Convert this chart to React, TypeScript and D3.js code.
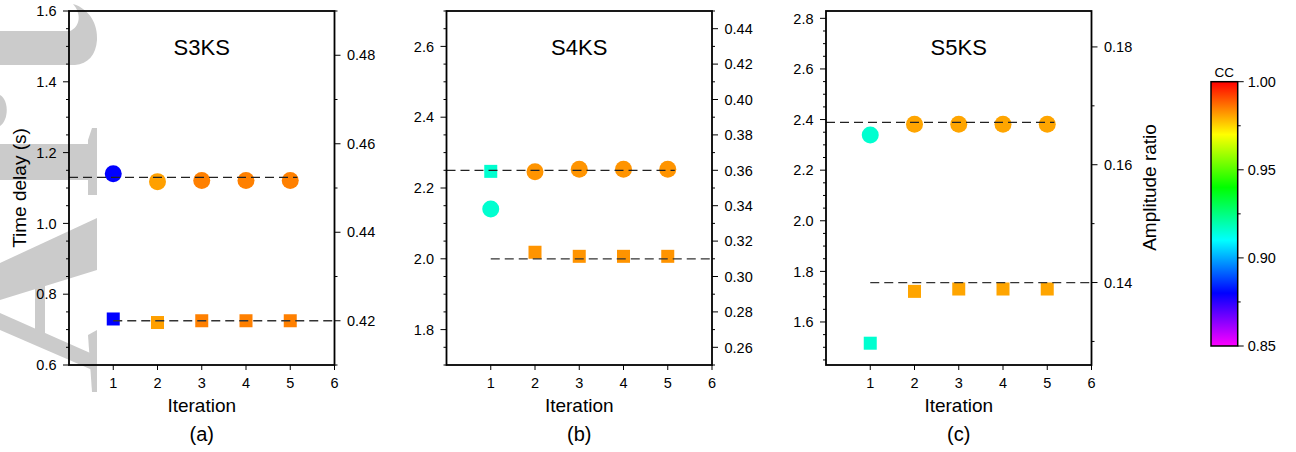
import React from 'react';
import * as d3 from 'd3';

// ---------- data ----------
const iterations = [1, 2, 3, 4, 5];
const xTickValues = [1, 2, 3, 4, 5, 6];
const titles = ['S3KS', 'S4KS', 'S5KS'];
const panelLabels = ['(a)', '(b)', '(c)'];

// panel (a) S3KS
const delayA = [1.14, 1.118, 1.121, 1.121, 1.121];
const ampA = [0.4204, 0.4196, 0.42, 0.42, 0.42];
const ccA = [0.88, 0.9812, 0.9849, 0.9849, 0.9849];
const delayRefA = 1.13;
const ampRefA = 0.42;
const leftDomainA = [0.6, 1.6];
const rightDomainA = [0.41, 0.49];
const leftTicksA = [0.6, 0.8, 1.0, 1.2, 1.4, 1.6];
const rightTicksA = [0.42, 0.44, 0.46, 0.48];

// panel (b) S4KS
const delayB = [2.141, 2.246, 2.253, 2.253, 2.253];
const ampB = [0.3594, 0.3137, 0.3114, 0.3114, 0.3114];
const ccB = [0.9155, 0.9826, 0.9826, 0.9826, 0.9826];
const delayRefB = 2.25;
const ampRefB = 0.31;
const leftDomainB = [1.7, 2.7];
const rightDomainB = [0.25, 0.45];
const leftTicksB = [1.8, 2.0, 2.2, 2.4, 2.6];
const rightTicksB = [0.26, 0.28, 0.3, 0.32, 0.34, 0.36, 0.38, 0.4, 0.42, 0.44];

// panel (c) S5KS
const delayC = [2.339, 2.381, 2.381, 2.381, 2.381];
const ampC = [0.1297, 0.1385, 0.1389, 0.1389, 0.1389];
const ccC = [0.9155, 0.9806, 0.9806, 0.9806, 0.9806];
const delayRefC = 2.389;
const ampRefC = 0.14;
const leftDomainC = [1.43, 2.829];
const rightDomainC = [0.126, 0.1861];
const leftTicksC = [1.6, 1.8, 2.0, 2.2, 2.4, 2.6, 2.8];
const rightTicksC = [0.14, 0.16, 0.18];

// colour bar
const ccDomain = [0.85, 1.0];
const ccStops = [0.85, 0.88, 0.91, 0.94, 0.97, 1.0];
const ccColors = ['#ff00ff', '#0000ff', '#00ffff', '#00ff00', '#ffff00', '#ff0000'];
const ccTicks = [0.85, 0.9, 0.95, 1.0];
const ccMinorTicks = [0.875, 0.925, 0.975];

const panels = [
  { delay: delayA, amp: ampA, cc: ccA, dRef: delayRefA, aRef: ampRefA, ld: leftDomainA, rd: rightDomainA, lt: leftTicksA, rt: rightTicksA, left: 69 },
  { delay: delayB, amp: ampB, cc: ccB, dRef: delayRefB, aRef: ampRefB, ld: leftDomainB, rd: rightDomainB, lt: leftTicksB, rt: rightTicksB, left: 446.5 },
  { delay: delayC, amp: ampC, cc: ccC, dRef: delayRefC, aRef: ampRefC, ld: leftDomainC, rd: rightDomainC, lt: leftTicksC, rt: rightTicksC, left: 826 },
];

const FONT = '"Liberation Sans", Arial, Helvetica, sans-serif';
const TOP = 11;
const BOTTOM = 365;
const W = 265.5;

const colorScale = d3.scaleLinear<string>().domain(ccStops).range(ccColors).interpolate(d3.interpolateRgb);

function minorRange(lo: number, hi: number, step: number) {
  const out: number[] = [];
  const start = Math.ceil(lo / step - 1e-6);
  const end = Math.floor(hi / step + 1e-6);
  for (let i = start; i <= end; i++) out.push(+(i * step).toFixed(4));
  return out;
}

function Panel({ p, idx }: { p: any; idx: number }) {
  const x = d3.scaleLinear().domain([0, 6]).range([p.left, p.left + W]);
  const yl = d3.scaleLinear().domain(p.ld).range([BOTTOM, TOP]);
  const yr = d3.scaleLinear().domain(p.rd).range([BOTTOM, TOP]);
  const leftMinor = minorRange(p.ld[0], p.ld[1], 0.05);
  const rightMinor = minorRange(p.rd[0], p.rd[1], 0.01);
  const right = p.left + W;
  const cx = p.left + W / 2;
  const isMajor = (v: number, ticks: number[]) => ticks.some((t) => Math.abs(t - v) < 1e-6);
  return (
    <g>
      {/* markers */}
      {iterations.map((it, i) => (
        <rect key={'s' + i} x={x(it) - 6.5} y={yr(p.amp[i]) - 6.5} width={13} height={13} fill={colorScale(p.cc[i])} />
      ))}
      {iterations.map((it, i) => (
        <circle key={'c' + i} cx={x(it)} cy={yl(p.delay[i])} r={8.5} fill={colorScale(p.cc[i])} />
      ))}
      {/* reference lines */}
      <line x1={x(0)} x2={x(5.16)} y1={yl(p.dRef)} y2={yl(p.dRef)} stroke="#222" strokeWidth={1.3} strokeDasharray="9,5" />
      <line x1={x(1)} x2={x(6)} y1={yr(p.aRef)} y2={yr(p.aRef)} stroke="#333" strokeWidth={1.3} strokeDasharray="9,5" />
      {/* frame */}
      <rect x={p.left} y={TOP} width={W} height={BOTTOM - TOP} fill="none" stroke="#000" strokeWidth={1.8} />
      {/* left ticks */}
      {leftMinor.map((v) => (
        <line key={'lm' + v} x1={p.left} x2={p.left - (isMajor(v, p.lt) ? 6 : 3)} y1={yl(v)} y2={yl(v)} stroke="#000" strokeWidth={1} />
      ))}
      {p.lt.map((v: number) => (
        <text key={'lt' + v} x={p.left - 12.5} y={yl(v) + 5.2} textAnchor="end" fontSize={14.5} fontFamily={FONT} fill="#000">
          {v.toFixed(1)}
        </text>
      ))}
      {/* right ticks */}
      {rightMinor.map((v) => (
        <line key={'rm' + v} x1={right} x2={right + (isMajor(v, p.rt) ? 6 : 3)} y1={yr(v)} y2={yr(v)} stroke="#000" strokeWidth={1} />
      ))}
      {p.rt.map((v: number) => (
        <text key={'rt' + v} x={right + 12.5} y={yr(v) + 5.2} textAnchor="start" fontSize={14.5} fontFamily={FONT} fill="#000">
          {v.toFixed(2)}
        </text>
      ))}
      {/* x ticks */}
      {xTickValues.map((v) => (
        <g key={'x' + v}>
          <line x1={x(v)} x2={x(v)} y1={BOTTOM} y2={BOTTOM + 5} stroke="#000" strokeWidth={1} />
          <text x={x(v)} y={388} textAnchor="middle" fontSize={14.5} fontFamily={FONT} fill="#000">
            {v}
          </text>
        </g>
      ))}
      <text x={cx} y={412} textAnchor="middle" fontSize={19} fontFamily={FONT} fill="#000">
        Iteration
      </text>
      <text x={cx} y={441} textAnchor="middle" fontSize={20} fontFamily={FONT} fill="#000">
        {panelLabels[idx]}
      </text>
      <text x={cx} y={55} textAnchor="middle" fontSize={22} fontFamily={FONT} fill="#000">
        {titles[idx]}
      </text>
    </g>
  );
}

function Watermark() {
  const c = '#cbcbcb';
  return (
    <g fill={c}>
      <path d="M0,31 L70,31 C80,27 82,14 73,4 C90,9 98,25 97,40 C96,55 88,64 75,65 L0,65 Z" />
      <path d="M0,95 C9,100 9,120 0,126 Z" />
      <rect x={0} y={144} width={92} height={36} />
      <path d="M88,140 L92,128 L97,128 L97,195 L88,195 Z" />
      <path d="M0,263 L97,218 L97,270 L0,300 Z" />
      <path d="M0,313 L97,356 L97,372 L0,330 Z" />
      <rect x={35} y={275} width={10} height={58} />
      <path d="M88,335 L97,330 L97,392 L92,392 Z" />
    </g>
  );
}

function ColorBar() {
  const x0 = 1211;
  const w = 26.7;
  const y = d3.scaleLinear().domain(ccDomain).range([346, 81.7]);
  return (
    <g>
      <defs>
        <linearGradient id="ccgrad" x1="0" y1="1" x2="0" y2="0">
          {ccStops.map((s, i) => (
            <stop key={s} offset={(s - ccDomain[0]) / (ccDomain[1] - ccDomain[0])} stopColor={ccColors[i]} />
          ))}
        </linearGradient>
      </defs>
      <rect x={x0} y={y(1.0)} width={w} height={y(0.85) - y(1.0)} fill="url(#ccgrad)" stroke="#000" strokeWidth={1.5} />
      {ccTicks.map((v) => (
        <g key={'cc' + v}>
          <line x1={x0 + w} x2={x0 + w + 6} y1={y(v)} y2={y(v)} stroke="#000" strokeWidth={1} />
          <text x={x0 + w + 10} y={y(v) + 5.2} fontSize={14.5} fontFamily={FONT} fill="#000">
            {v.toFixed(2)}
          </text>
        </g>
      ))}
      {ccMinorTicks.map((v) => (
        <line key={'ccm' + v} x1={x0 + w} x2={x0 + w + 3} y1={y(v)} y2={y(v)} stroke="#000" strokeWidth={1} />
      ))}
      <text x={x0 + w / 2} y={76.5} textAnchor="middle" fontSize={13.5} fontFamily={FONT} fill="#000">
        CC
      </text>
    </g>
  );
}

export default function App() {
  return (
    <svg width={1296} height={452} style={{ position: 'absolute', left: 0, top: 0, background: '#fff' }}>
      <rect x={0} y={0} width={1296} height={452} fill="#fff" />
      <Watermark />
      {panels.map((p, i) => (
        <Panel key={i} p={p} idx={i} />
      ))}
      <text transform="translate(26,188) rotate(-90)" textAnchor="middle" fontSize={19} fontFamily={FONT} fill="#000">
        Time delay (s)
      </text>
      <text transform="translate(1155.5,187.5) rotate(-90)" textAnchor="middle" fontSize={19} fontFamily={FONT} fill="#000">
        Amplitude ratio
      </text>
      <ColorBar />
    </svg>
  );
}
